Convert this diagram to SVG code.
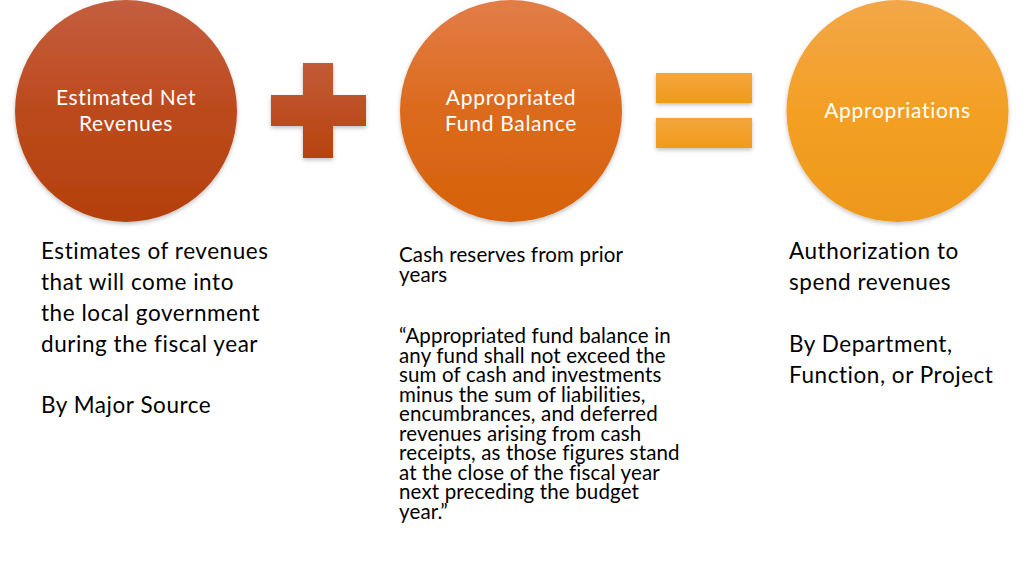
<svg xmlns="http://www.w3.org/2000/svg" width="1024" height="575" viewBox="0 0 1024 575">
<defs>
<linearGradient id="g1" x1="0" y1="0" x2="0" y2="1"><stop offset="0" stop-color="#c45e3f"/><stop offset="0.5" stop-color="#bc4a1d"/><stop offset="1" stop-color="#b4400c"/></linearGradient>
<linearGradient id="g2" x1="0" y1="0" x2="0" y2="1"><stop offset="0" stop-color="#e27d48"/><stop offset="0.5" stop-color="#dc6a1c"/><stop offset="1" stop-color="#d6620a"/></linearGradient>
<linearGradient id="g3" x1="0" y1="0" x2="0" y2="1"><stop offset="0" stop-color="#f3a748"/><stop offset="0.5" stop-color="#f3a024"/><stop offset="1" stop-color="#ed981a"/></linearGradient>
<linearGradient id="gp" x1="0" y1="0" x2="0" y2="1"><stop offset="0" stop-color="#c25a38"/><stop offset="1" stop-color="#b8430e"/></linearGradient>
<linearGradient id="ge" x1="0" y1="0" x2="0" y2="1"><stop offset="0" stop-color="#f3a63c"/><stop offset="1" stop-color="#f19a1c"/></linearGradient>
<filter id="sh" x="-10%" y="-10%" width="120%" height="120%"><feDropShadow dx="0" dy="2" stdDeviation="2" flood-color="#000" flood-opacity="0.25"/></filter>
</defs>
<style>
.c{font-family:Lato,"Liberation Sans",sans-serif;font-size:21px;letter-spacing:0.7px;fill:#ffffff;text-anchor:middle}
.b{font-family:Lato,"Liberation Sans",sans-serif;font-size:22.5px;letter-spacing:0.55px;fill:#000000}
.m{font-family:Lato,"Liberation Sans",sans-serif;font-size:20.5px;letter-spacing:0.15px;fill:#000000}
</style>
<rect width="1024" height="575" fill="#ffffff"/>
<g id="node-revenues">
<circle cx="126" cy="111" r="111" fill="url(#g1)" filter="url(#sh)"/>
<text class="c" x="126" y="105">Estimated Net</text>
<text class="c" x="126" y="131">Revenues</text>
</g>
<g id="node-plus" filter="url(#sh)">
<path d="M303 63 H333 V95 H366 V126 H333 V158 H303 V126 H271 V95 H303 Z" fill="url(#gp)"/>
</g>
<g id="node-fund-balance">
<circle cx="511" cy="111" r="111" fill="url(#g2)" filter="url(#sh)"/>
<text class="c" x="511" y="105">Appropriated</text>
<text class="c" x="511" y="131">Fund Balance</text>
</g>
<g id="node-equals" filter="url(#sh)">
<rect x="656" y="73" width="96" height="30" fill="url(#ge)"/>
<rect x="656" y="118" width="96" height="30" fill="url(#ge)"/>
</g>
<g id="node-appropriations">
<circle cx="897.5" cy="111" r="111" fill="url(#g3)" filter="url(#sh)"/>
<text class="c" x="897.5" y="118">Appropriations</text>
</g>
<g id="text-left">
<text class="b" x="41" y="259">Estimates of revenues</text>
<text class="b" x="41" y="290">that will come into</text>
<text class="b" x="41" y="321">the local government</text>
<text class="b" x="41" y="352">during the fiscal year</text>
<text class="b" x="41" y="413">By Major Source</text>
</g>
<g id="text-middle">
<text class="m" x="399" y="262">Cash reserves from prior</text>
<text class="m" x="399" y="282">years</text>
<text class="m" x="399" y="343">“Appropriated fund balance in</text>
<text class="m" x="399" y="362.5">any fund shall not exceed the</text>
<text class="m" x="399" y="382">sum of cash and investments</text>
<text class="m" x="399" y="401.5">minus the sum of liabilities,</text>
<text class="m" x="399" y="421">encumbrances, and deferred</text>
<text class="m" x="399" y="440.5">revenues arising from cash</text>
<text class="m" x="399" y="460">receipts, as those figures stand</text>
<text class="m" x="399" y="479.5">at the close of the fiscal year</text>
<text class="m" x="399" y="499">next preceding the budget</text>
<text class="m" x="399" y="518.5">year.”</text>
</g>
<g id="text-right">
<text class="b" x="789" y="259">Authorization to</text>
<text class="b" x="789" y="290">spend revenues</text>
<text class="b" x="789" y="352">By Department,</text>
<text class="b" x="789" y="383">Function, or Project</text>
</g>
<g id="connectors"/>
</svg>
